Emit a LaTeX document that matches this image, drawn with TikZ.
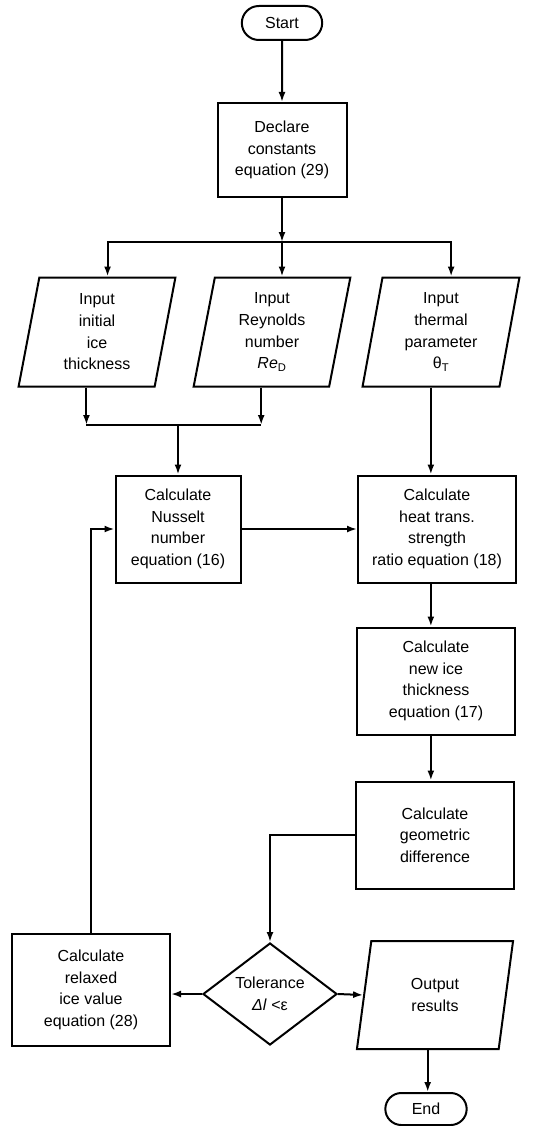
\documentclass[tikz,border=0pt]{standalone}
\usepackage{fontspec}
\setmainfont{Liberation Sans}
\usetikzlibrary{shapes.geometric,shapes.misc,arrows.meta,calc}
\tikzset{
  box/.style={draw, rectangle, line width=2pt, align=center, minimum width=158pt, minimum height=107pt, inner sep=2pt},
  io/.style={draw, trapezium, trapezium left angle=81, trapezium right angle=99, trapezium stretches=true, line width=2pt, align=center, minimum width=157pt, minimum height=109pt, inner sep=2pt},
  term/.style={draw, rounded rectangle, line width=2pt, minimum width=87pt, minimum height=34pt},
  decide/.style={draw, diamond, aspect=1.31, line width=2pt, align=center, minimum width=134pt, minimum height=102pt, inner sep=0pt}
}
\begin{document}
\begin{tikzpicture}[x=1pt,y=-1pt,>={Latex[length=10pt,width=7pt]},line width=2pt,font=\fontsize{16}{21.7}\selectfont]
			\useasboundingbox (0,0) rectangle (543,1126);
			% Start and constants
			\node[term] (start) at (282,23) {Start};
			\node[box,minimum width=129pt,minimum height=94pt] (declare) at (282,150) {Declare\\constants\\equation (29)};
			% Three inputs
			\node[io] (icein) at (97,332) {Input\\initial\\ice\\thickness};
			\node[io] (reyin) at (272,332) {Input\\Reynolds\\number\\\textit{Re}\textsubscript{D}};
			\node[io] (thermin) at (441,332) {Input\\thermal\\parameter\\θ\textsubscript{T}};
			\coordinate (iceT) at ($(icein.top left corner)!.5!(icein.top right corner)$);
			\coordinate (iceB) at ($(icein.bottom left corner)!.5!(icein.bottom right corner)$);
			\coordinate (reyT) at ($(reyin.top left corner)!.5!(reyin.top right corner)$);
			\coordinate (reyB) at ($(reyin.bottom left corner)!.5!(reyin.bottom right corner)$);
			\coordinate (thermT) at ($(thermin.top left corner)!.5!(thermin.top right corner)$);
			\coordinate (thermB) at ($(thermin.bottom left corner)!.5!(thermin.bottom right corner)$);
			% Calculation boxes
			\node[box,minimum width=125pt] (nuss) at (178,529) {Calculate\\Nusselt\\number\\equation (16)};
			\node[box] (heat) at (437,529) {Calculate\\heat trans.\\strength\\ratio equation (18)};
			\node[box] (newice) at (436,681) {Calculate\\new ice\\thickness\\equation (17)};
			\node[box] (geom) at (435,835) {Calculate\\geometric\\difference};
			\node[decide] (tol) at (270,994) {Tolerance\\\textit{Δl} <ε};
			\node[box,minimum height=112pt] (relax) at (91,990) {Calculate\\relaxed\\ice value\\equation (28)};
			\node[io,minimum height=108pt] (output) at (435,995) {Output\\results};
			\coordinate (outW) at ($(output.top left corner)!.5!(output.bottom left corner)$);
			\coordinate (outB) at ($(output.bottom left corner)!.5!(output.bottom right corner)$);
			\node[term,minimum width=88pt,minimum height=32pt] (end) at (426,1109) {End};
			% Connectors
			\coordinate (split) at (282,242);
			\coordinate (merge) at (178,425);
			\draw[->] (start) -- (declare);
			\draw[->] (declare) -- (split);
			\draw[->] (split) -| (iceT);
			\draw[->] (split) -- (split |- reyT);
			\draw[->] (split) -| (thermT);
			\draw[->] (iceB) -- (iceB |- merge);
			\draw[->] (reyB) -- (reyB |- merge);
			\draw (iceB |- merge) -- (reyB |- merge);
			\draw[->] (merge) -- (nuss);
			\draw[->] (thermB) -- (thermB |- heat.north);
			\draw[->] (nuss) -- (heat);
			\draw[->] (heat.south -| thermB) -- (newice.north -| thermB);
			\draw[->] (newice.south -| thermB) -- (geom.north -| thermB);
			\draw[->] (geom) -| (tol);
			\draw[->] (tol.west) -- (tol.west -| relax.east);
			\draw[->] (tol.east) -- (outW);
			\draw[->] (relax) |- (nuss);
			\draw[->] (outB) -- (outB |- end.north);
		\end{tikzpicture}
\end{document}
